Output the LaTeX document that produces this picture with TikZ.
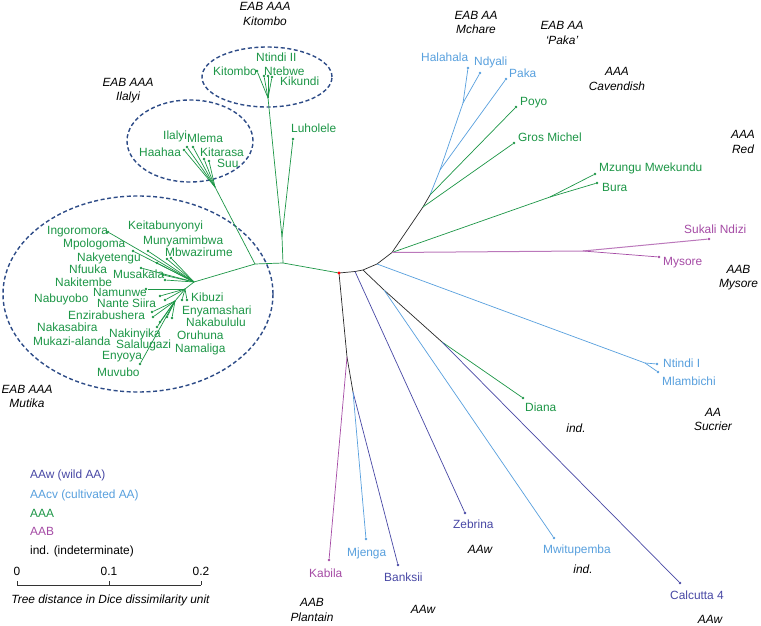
\documentclass[tikz,border=0pt]{standalone}
\usepackage{fontspec}
\setmainfont{Liberation Sans}
\definecolor{cgreen}{RGB}{28,150,70}
\definecolor{cblue}{RGB}{88,160,222}
\definecolor{cdblue}{RGB}{72,72,165}
\definecolor{cpurple}{RGB}{165,75,165}
\definecolor{cell}{RGB}{45,75,135}
\definecolor{cblack}{RGB}{40,40,40}
\begin{document}
\begin{tikzpicture}[x=1pt,y=-1pt,
  every node/.style={font=\fontsize{11.9}{14.5}\selectfont, inner sep=0pt},
  br/.style={line width=0.7pt},
  dotn/.style={circle, fill, inner sep=0pt, minimum size=2.6pt},
  lab/.style={anchor=west, text height=8.6pt, text depth=0pt},
  ann/.style={align=center, font=\fontsize{11.9}{14.5}\selectfont\itshape},
  ann1/.style={text height=8.6pt, text depth=0pt, font=\fontsize{11.9}{14.5}\selectfont\itshape},
  grp/.style={draw=cell, line width=1.4pt, dash pattern=on 4pt off 2.6pt}]
\useasboundingbox (0,0) rectangle (761,626);
\fill[white] (0,0) rectangle (761,626);

% ---------- group ellipses
\draw[grp] (267,77) ellipse [x radius=65pt, y radius=30pt];
\draw[grp] (190,141) ellipse [x radius=63pt, y radius=41pt];
\draw[grp] (138,294) ellipse [x radius=135pt, y radius=98pt];

% ---------- internal nodes
\coordinate (R) at (339,273);
\coordinate (A) at (355,271.5);
\coordinate (B) at (363,270);
\coordinate (C) at (377,264);
\coordinate (D) at (392,252.5);
\coordinate (E) at (423,207);
\coordinate (F) at (430,195);
\coordinate (K) at (440,170);
\coordinate (L) at (463,103);
\coordinate (P) at (583,251);
\coordinate (Bz) at (550,197);
\coordinate (NI) at (645,363);
\coordinate (G) at (384,290);
\coordinate (Dn) at (442,342);
\coordinate (H) at (347,357);
\coordinate (I) at (353,392);
\coordinate (LB) at (283,263);
\coordinate (LN) at (282,237);
\coordinate (KN) at (268,98);
\coordinate (I2) at (255,264);
\coordinate (IN) at (215,187);
\coordinate (M) at (194,282);
\coordinate (M2) at (185,289);
\coordinate (M3) at (175,301);

% ---------- backbone
\draw[br, cblack] (R) -- (A) -- (B) -- (C) -- (D) -- (E) -- (F);
\draw[br, cblack] (B) -- (G) -- (Dn);
\draw[br, cblack] (R) -- (H) -- (I);
\draw[br, cgreen] (R) -- (LB) -- (I2) -- (M);
\draw[br, cgreen] (LB) -- (LN) -- (KN);
\draw[br, cgreen] (I2) -- (IN);
\draw[br, cgreen] (M) -- (M2) -- (M3);

% ---------- right-hand tips
\node[dotn, cblue] (t1) at (468,68) {};
\node[dotn, cblue] (t2) at (480,73) {};
\node[dotn, cblue] (t3) at (506,79) {};
\node[dotn, cgreen] (t4) at (516,107) {};
\node[dotn, cgreen] (t5) at (514,143) {};
\node[dotn, cgreen] (t6) at (595,174) {};
\node[dotn, cgreen] (t7) at (597,183) {};
\node[dotn, cpurple] (t8) at (709,239) {};
\node[dotn, cpurple] (t9) at (659,257) {};
\node[dotn, cblue] (t10) at (657,364) {};
\node[dotn, cblue] (t11) at (658,372) {};
\node[dotn, cgreen] (t12) at (523,398) {};
\node[dotn, cdblue] (t13) at (680,583) {};
\node[dotn, cblue] (t14) at (554,538) {};
\node[dotn, cdblue] (t15) at (465,513) {};
\node[dotn, cdblue] (t16) at (398,565) {};
\node[dotn, cblue] (t17) at (366,539) {};
\node[dotn, cpurple] (t18) at (329,560) {};
\node[dotn, cgreen] (t19) at (293,139) {};

\draw[br, cblue] (F) -- (K) -- (L) -- (t1);
\draw[br, cblue] (L) -- (t2);
\draw[br, cblue] (K) -- (t3);
\draw[br, cgreen] (F) -- (t4);
\draw[br, cgreen] (E) -- (t5);
\draw[br, cgreen] (D) -- (Bz) -- (t6);
\draw[br, cgreen] (Bz) -- (t7);
\draw[line width=1pt, cpurple!75] (D) -- (P) -- (t8);
\draw[br, cpurple] (P) -- (t9);
\draw[br, cblue] (C) -- (NI) -- (t10);
\draw[br, cblue] (NI) -- (t11);
\draw[br, cgreen] (Dn) -- (t12);
\draw[br, cdblue] (Dn) -- (t13);
\draw[br, cblue] (G) -- (t14);
\draw[br, cdblue] (A) -- (t15);
\draw[br, cdblue] (I) -- (t16);
\draw[br, cblue] (I) -- (t17);
\draw[br, cpurple] (H) -- (t18);
\draw[br, cgreen] (LN) -- (t19);

\node[lab, cblue] (l1) at (421,57) {Halahala};
\node[lab, cblue] (l2) at (474,61) {Ndyali};
\node[lab, cblue] (l3) at (509,73) {Paka};
\node[lab, cgreen] (l4) at (520,101) {Poyo};
\node[lab, cgreen] (l5) at (518,137) {Gros Michel};
\node[lab, cgreen] (l6) at (599,167) {Mzungu Mwekundu};
\node[lab, cgreen] (l7) at (602,187) {Bura};
\node[lab, cpurple] (l8) at (684,229) {Sukali Ndizi};
\node[lab, cpurple] (l9) at (663,261) {Mysore};
\node[lab, cblue] (l10) at (663,363) {Ntindi I};
\node[lab, cblue] (l11) at (662,381) {Mlambichi};
\node[lab, cgreen] (l12) at (525,407) {Diana};
\node[lab, cdblue] (l13) at (670,595) {Calcutta 4};
\node[lab, cblue] (l14) at (543,549) {Mwitupemba};
\node[lab, cdblue] (l15) at (453,524) {Zebrina};
\node[lab, cdblue] (l16) at (384,577) {Banksii};
\node[lab, cblue] (l17) at (347,552) {Mjenga};
\node[lab, cpurple] (l18) at (309,573) {Kabila};
\node[lab, cgreen] (l19) at (291,128) {Luholele};

% ---------- Kitombo cluster
\foreach \px/\py [count=\i] in {257/71, 264/76, 268/76, 272/77} {
  \node[dotn, cgreen] (k\i) at (\px,\py) {};
  \draw[br, cgreen] (KN) -- (k\i);
}
\node[lab, cgreen] (kl1) at (213,71) {Kitombo};
\node[lab, cgreen] (kl2) at (256,57) {Ntindi II};
\node[lab, cgreen] (kl3) at (264,71) {Ntebwe};
\node[lab, cgreen] (kl4) at (280,81) {Kikundi};

% ---------- Ilalyi cluster
\foreach \px/\py [count=\i] in {184/150, 187/147, 193/147, 204/159, 209/161} {
  \node[dotn, cgreen] (i\i) at (\px,\py) {};
  \draw[br, cgreen] (IN) -- (i\i);
}
\node[lab, cgreen] (il1) at (139,152) {Haahaa};
\node[lab, cgreen] (il2) at (163,135) {Ilalyi};
\node[lab, cgreen] (il3) at (187,138) {Mlema};
\node[lab, cgreen] (il4) at (200,152) {Kitarasa};
\node[lab, cgreen] (il5) at (217,163) {Suu};

% ---------- Mutika cluster
\foreach \px/\py [count=\i] in {108/232, 133/251, 148/251, 157/263, 167/259, 171/258, 141/268, 163/275, 165/280} {
  \node[dotn, cgreen] (mu\i) at (\px,\py) {};
  \draw[br, cgreen] (M) -- (mu\i);
}
\foreach \px/\py [count=\i] in {146/289, 160/296, 165/300, 182/300, 187/300} {
  \node[dotn, cgreen] (mv\i) at (\px,\py) {};
  \draw[br, cgreen] (M2) -- (mv\i);
}
\foreach \px/\py [count=\i] in {152/312, 153/317, 160/322, 157/327, 167/317, 172/318, 140/364} {
  \node[dotn, cgreen] (mw\i) at (\px,\py) {};
  \draw[br, cgreen] (M3) -- (mw\i);
}
\foreach \px/\py/\t [count=\i] in {47/230/Ingoromora, 128/225/Keitabunyonyi, 63/243/Mpologoma, 143/240/Munyamimbwa, 77/257/Nakyetengu, 165/252/Mbwazirume, 69/269/Nfuuka, 113/274/Musakala, 55/282/Nakitembe, 93/292/Namunwe, 34/298/Nabuyobo, 191/297/Kibuzi, 97/303/Nante Siira, 182/310/Enyamashari, 68/315/Enzirabushera, 186/322/Nakabululu, 37/327/Nakasabira, 109/333/Nakinyika, 177/335/Oruhuna, 33/341/Mukazi-alanda, 116/344/Salalugazi, 175/348/Namaliga, 102/355/Enyoya, 97/372/Muvubo} {
  \node[lab, cgreen] (ml\i) at (\px,\py) {\t};
}

% ---------- root
\node[circle, fill=red, inner sep=0pt, minimum size=3.2pt] (root) at (R) {};

% ---------- annotations
\node[ann] (a1) at (265,14) {EAB AAA\\Kitombo};
\node[ann] (a2) at (128,90.5) {EAB AAA\\Ilalyi};
\node[ann] (a3) at (27,396.5) {EAB AAA\\Mutika};
\node[ann] (a4) at (476,22.5) {EAB AA\\Mchare};
\node[ann] (a5) at (562,33) {EAB AA\\‘Paka’};
\node[ann] (a6) at (617,79) {AAA\\Cavendish};
\node[ann] (a7) at (743,142) {AAA\\Red};
\node[ann] (a8) at (738.5,277.5) {AAB\\Mysore};
\node[ann] (a9) at (713,419.5) {AA\\Sucrier};
\node[ann1] (a10) at (576,428) {ind.};
\node[ann1] (a11) at (480,549) {AAw};
\node[ann1] (a12) at (583,569) {ind.};
\node[ann1] (a13) at (423,609) {AAw};
\node[ann1] (a14) at (710,619) {AAw};
\node[ann] (a15) at (312,610) {AAB\\Plantain};

% ---------- legend
\node[lab, cdblue] (g1) at (30,474) {AAw (wild AA)};
\node[lab, cblue] (g2) at (30,494) {AAcv (cultivated AA)};
\node[lab, cgreen] (g3) at (30,513) {AAA};
\node[lab, cpurple] (g4) at (30,531) {AAB};
\node[lab, black] (g5) at (30,550) {ind. (indeterminate)};

% ---------- scale bar
\coordinate (s0) at (17,585);
\coordinate (s1) at (109,585);
\coordinate (s2) at (201,585);
\draw[line width=0.6pt, black!80] (s0) -- (s2);
\foreach \s in {s0,s1,s2} \draw[line width=0.6pt, black!80] (\s) -- ++(0,-4);
\node[text height=8.6pt, text depth=0pt] (n0) at (17,571) {0};
\node[text height=8.6pt, text depth=0pt] (n1) at (109,571) {0.1};
\node[text height=8.6pt, text depth=0pt] (n2) at (201,571) {0.2};
\node[ann1] (cap) at (110.5,599) {Tree distance in Dice dissimilarity unit};
\end{tikzpicture}
\end{document}
